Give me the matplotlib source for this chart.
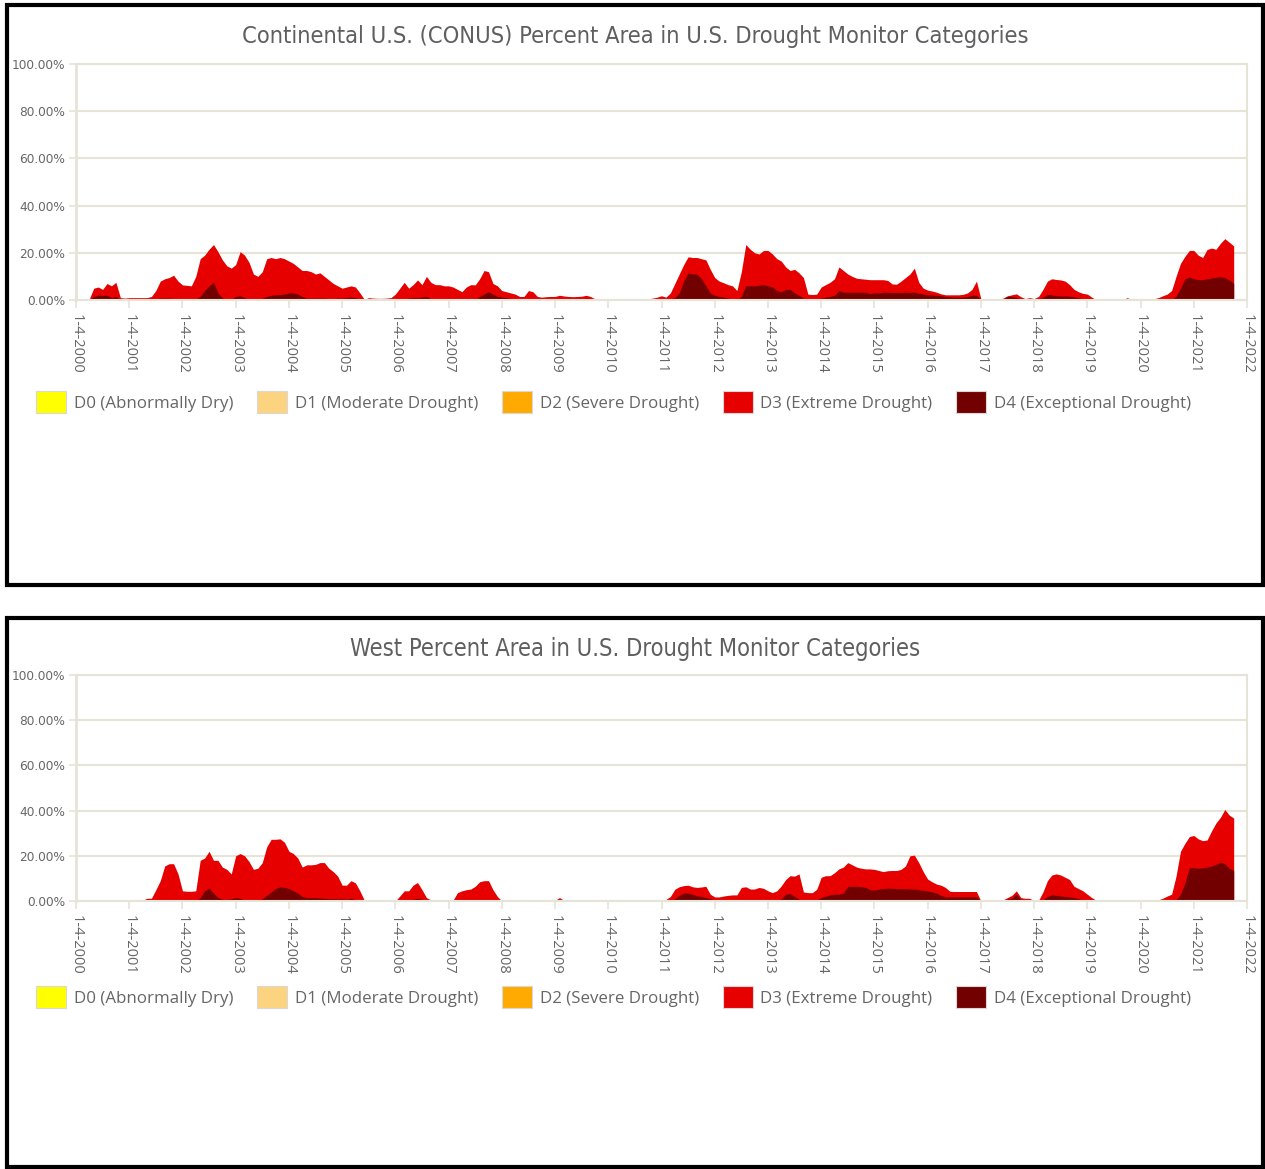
import matplotlib
matplotlib.use('Agg')
import matplotlib.pyplot as plt
from matplotlib import font_manager
from matplotlib.patches import Patch, Rectangle
from matplotlib.ticker import FuncFormatter
import numpy as np

# percent of area, monthly, Jan 2000 .. Oct 2021
conus_d3 = [
    0, 0, 0, 0.5, 5, 5.5, 4.5, 7, 6, 7.5, 1, 0.8,                    # 2000
    1, 1, 1, 1, 1, 1.5, 4, 8, 9, 9.5, 10.5, 8,                       # 2001
    6.4, 6.2, 6.0, 10, 17.5, 19, 21.5, 23.5, 20.5, 17, 14.5, 13.5,   # 2002
    15, 20.5, 19, 16, 11, 10, 12, 17.5, 18, 17.5, 18, 17.5,          # 2003
    16.5, 15.5, 14, 12.5, 12.5, 12, 11, 11.5, 10, 8.5, 7, 6,         # 2004
    5, 5.5, 6, 5.5, 3, 0.3, 1, 0.8, 0.7, 0.7, 0.8, 1,                # 2005
    2.5, 5, 7.5, 5, 6.5, 8.5, 6.5, 10, 7.5, 6.5, 6.5, 6,             # 2006
    6, 5.5, 4.5, 3.5, 5.5, 6.5, 6.4, 9, 12.5, 12, 7, 6,              # 2007
    4, 3.5, 3, 2.5, 1.5, 1.5, 4, 3.5, 1.5, 1.2, 1.4, 1.5,            # 2008
    1.5, 2, 1.7, 1.5, 1.4, 1.5, 1.6, 2, 1.5, 0.5, 0.3, 0.2,          # 2009
    0.1, 0.1, 0.1, 0.1, 0.1, 0.2, 0.2, 0.2, 0.3, 0.5, 0.8, 1.2,      # 2010
    1.8, 1.2, 3, 7, 11, 15, 18.3, 18, 18, 17.5, 17, 13,              # 2011
    9.5, 8, 7.3, 6.5, 6, 4, 12, 23.5, 21.5, 20, 19.5, 21,            # 2012
    21, 19.5, 17.5, 16.5, 14, 12.5, 13, 11.5, 9.5, 2.5, 2.3, 2.5,    # 2013
    5.5, 6.5, 7.5, 9, 14, 12.5, 11, 10, 9.2, 9, 8.8, 8.6,            # 2014
    8.6, 8.6, 8.6, 8.3, 6.8, 6.7, 8, 9.5, 11, 13.5, 7.5, 5,          # 2015
    4.2, 3.8, 3.3, 2.6, 2.2, 2.2, 2.2, 2.2, 2.4, 3, 4.5, 8,          # 2016
    0.5, 0, 0, 0, 0.3, 0.8, 1.8, 2.2, 2.6, 1.4, 0.6, 1.0,            # 2017
    0.6, 1.5, 4.5, 8, 9, 8.7, 8.5, 8, 6.5, 4.5, 3.5, 2.8,            # 2018
    2.5, 1.2, 0.1, 0, 0, 0, 0, 0.05, 0.1, 1.0, 0.1, 0.1,             # 2019
    0.1, 0.2, 0.3, 0.5, 1, 1.8, 2.5, 4, 10, 15.5, 18.5, 21,          # 2020
    21, 19, 18, 21.4, 22, 21.5, 24, 26, 24.5, 22.9,                  # 2021
]
conus_d4 = [
    0, 0, 0, 0, 1.5, 2, 2, 2, 1, 1.5, 0.2, 0.2,
    0.5, 0.5, 0.5, 0.5, 0.5, 0.5, 0.5, 0.8, 0.8, 0.8, 0.6, 0.4,
    0.3, 0.3, 0.2, 0.5, 1.5, 4, 6, 7.5, 3, 0.8, 0.4, 0.4,
    1.5, 1.8, 1.0, 0.3, 0.2, 0.3, 0.8, 1.5, 2, 2.2, 2.3, 2.5,
    3, 3, 2.5, 1.5, 0.8, 0.8, 0.8, 0.8, 0.8, 0.6, 0.6, 0.8,
    0.8, 1.0, 1.2, 1.0, 0.5, 0.1, 0.1, 0.1, 0.1, 0.1, 0.1, 0.1,
    0.2, 0.3, 0.5, 0.8, 1.0, 1.0, 1.2, 1.6, 0.5, 0.3, 0.3, 0.3,
    0.2, 0.2, 0.2, 0.2, 0.2, 0.2, 0.2, 1.5, 2.5, 3.5, 2.5, 1.5,
    1.2, 1.0, 0.6, 0.4, 0.3, 0.3, 0.3, 0.3, 0.2, 0.2, 0.2, 0.4,
    0.5, 0.6, 0.5, 0.4, 0.3, 0.4, 0.5, 0.8, 0.6, 0.2, 0.1, 0.05,
    0, 0, 0, 0, 0, 0, 0, 0, 0, 0, 0, 0,
    0.1, 0.2, 0.5, 1, 3, 8, 11.5, 11, 11, 9, 6, 3,
    2, 1.5, 1.2, 0.8, 0.5, 0.2, 1.5, 6, 6, 6, 6.3, 6.5,
    6, 5.5, 4, 3.5, 4.5, 4.5, 3, 2, 0.8, 0.3, 0.3, 0.5,
    0.8, 1.2, 1.5, 2, 4, 3.3, 3.3, 3.3, 3.3, 3.3, 3.3, 2.7,
    3, 3, 3.3, 3.3, 3.2, 3.2, 3.2, 3.3, 3.2, 3.3, 2.8, 2.5,
    2.3, 2.1, 2, 1.8, 1.5, 1.3, 1.2, 1.2, 1.2, 1.5, 2, 2,
    0.2, 0, 0, 0, 0, 0.5, 1.5, 1.5, 1, 0.5, 0.2, 0.3,
    0.3, 0.5, 1, 2.3, 2.2, 1.8, 1.7, 1.7, 1.6, 1.3, 0.9, 0.6,
    0.4, 0.2, 0, 0, 0, 0, 0, 0, 0, 0, 0, 0,
    0, 0, 0, 0, 0, 0, 0.1, 0.3, 1.5, 5, 9, 9.7,
    9, 8.6, 8.6, 9, 9.3, 9.7, 9.8, 9.5, 8.5, 7.1,
]
west_d3 = [
    0, 0, 0, 0.1, 0.2, 0.6, 0.2, 0.2, 0.5, 0.5, 0.1, 0.1,
    0, 0, 0.1, 0.3, 1.2, 1.2, 5, 9, 15.5, 16.5, 16.5, 12,
    4.5, 4.3, 4.3, 4.5, 18, 19, 22, 18, 18, 15, 14, 12,
    20, 21, 20, 17.5, 14, 14.5, 17, 24, 27.3, 27.3, 27.5, 26,
    22, 21, 19, 15, 16, 16, 16.2, 17, 17, 14.5, 13, 11,
    7, 7, 9, 8, 4.5, 0.3, 0, 0, 0.3, 0.2, 0, 0,
    0, 2.2, 4.5, 4.5, 7, 8.2, 5, 1.5, 0.5, 0.3, 0.3, 0.3,
    0.3, 0.3, 3.7, 4.5, 5, 5.3, 6.5, 8.5, 9, 9, 5, 2,
    0, 0, 0, 0.1, 0.2, 0.7, 0.1, 0.1, 0.1, 0.1, 0.1, 0.1,
    0.3, 1.5, 0.3, 0.1, 0.1, 0.1, 0.1, 0.1, 0.1, 0.1, 0.1, 0.2,
    0.3, 0.15, 0.15, 0.15, 0.15, 0.15, 0.15, 0.15, 0.15, 0.15, 0.15, 0.15,
    0.2, 0.7, 2, 5.2, 6.3, 6.8, 7, 6.3, 6, 6.2, 6.5, 3,
    1.8, 1.8, 2.2, 2.5, 2.7, 2.7, 6, 6.3, 5.3, 5.3, 6, 5.6,
    4.5, 3.7, 4.5, 6.7, 9.5, 11.2, 11, 12, 4, 3.7, 3.7, 5.2,
    10.5, 11.2, 11.2, 12.5, 14.2, 15, 17, 16, 15, 14.5, 14.2, 14.2,
    14, 13.5, 13, 13.4, 13.5, 13.5, 14, 15.5, 20, 20.3, 17, 13,
    9.7, 8.5, 7.5, 7, 6, 4.3, 4.2, 4.2, 4.2, 4.2, 4.2, 4.2,
    0, 0, 0, 0, 0, 0.5, 1.5, 2.5, 4.5, 1.5, 1.2, 1.2,
    0, 0.3, 4, 9, 11.5, 12, 11.5, 10.5, 9.5, 6.5, 5.5, 4.5,
    3, 1.5, 0.3, 0.3, 0.3, 0.3, 0.3, 0.3, 0.3, 0.2, 0, 0,
    0, 0, 0, 0.1, 0.5, 1.2, 2.2, 3, 11, 22, 25.5, 28.5,
    29, 27.5, 26.7, 27, 31, 34.5, 37, 40.5, 38, 36.7,
]
west_d4 = [
    0, 0, 0, 0, 0, 0, 0, 0, 0, 0, 0, 0,
    0, 0, 0, 0, 0, 0, 0, 0, 0, 0, 0, 0,
    0, 0, 0, 0, 1.5, 4.5, 5.7, 3.5, 1.5, 0.8, 0.7, 1.0,
    1.5, 1.2, 0.3, 0, 0, 0.3, 1, 2.5, 4, 5.5, 6.3, 6,
    5.5, 4.5, 3.5, 2, 1.5, 1.5, 1.5, 1.3, 1.2, 1, 1, 1,
    1, 0.8, 1.2, 0.5, 0.2, 0, 0, 0, 0, 0, 0, 0,
    0, 0, 0, 0.3, 0.8, 1.2, 0.8, 0.2, 0, 0, 0, 0,
    0, 0, 0, 0, 0, 0, 0, 0, 0, 0, 0, 0,
    0, 0, 0, 0, 0, 0, 0, 0, 0, 0, 0, 0,
    0, 0, 0, 0, 0, 0, 0, 0, 0, 0, 0, 0,
    0, 0, 0, 0, 0, 0, 0, 0, 0, 0, 0, 0,
    0, 0, 0.2, 1, 2.5, 3.5, 3.5, 3, 2.3, 2, 1.5, 1,
    0.5, 0.4, 0.3, 0.2, 0.1, 0.1, 0, 0, 0, 0, 0, 0.1,
    0.1, 0.1, 0.1, 1, 3, 3.3, 2, 0.8, 0.3, 0.3, 0.3, 0.5,
    1.5, 2.2, 2.7, 3, 3, 3.5, 6.5, 6.5, 6.5, 6.3, 6, 5,
    4.8, 5.2, 5.5, 5.7, 5.6, 5.5, 5.5, 5.4, 5.3, 5.3, 5, 4.7,
    4.5, 4, 3.5, 2.5, 1.8, 1.8, 1.8, 1.8, 1.8, 1.8, 1.8, 1.8,
    0, 0, 0, 0, 0, 0.2, 0.8, 1.2, 3, 0.5, 0.3, 0.3,
    0, 0, 0.5, 2, 2.7, 2.5, 2.2, 2, 1.8, 1.5, 1, 0.5,
    0.3, 0.1, 0, 0, 0, 0, 0, 0, 0, 0, 0, 0,
    0, 0, 0, 0, 0, 0, 0, 0, 0.5, 3, 8, 14.7,
    14.7, 14.5, 14.7, 15, 15.5, 16.2, 17.2, 16.5, 14.5, 13.5,
]
years = list(range(2000, 2023))
tick_labels = ['1-4-%d' % y for y in years]
legend_labels = ['D0 (Abnormally Dry)', 'D1 (Moderate Drought)', 'D2 (Severe Drought)',
                 'D3 (Extreme Drought)', 'D4 (Exceptional Drought)']
legend_colors = ['#ffff00', '#fcd37f', '#ffaa00', '#e60000', '#730000']
titles = ['Continental U.S. (CONUS) Percent Area in U.S. Drought Monitor Categories',
          'West Percent Area in U.S. Drought Monitor Categories']

W, H = 1265, 1169
fig = plt.figure(figsize=(W / 100, H / 100), dpi=100)
fig.patch.set_facecolor('white')

names = {f.name for f in font_manager.fontManager.ttflist}
title_font = 'Liberation Sans Narrow' if 'Liberation Sans Narrow' in names else 'DejaVu Sans'
text_font = ['Open Sans', 'DejaVu Sans']
grid_col = '#e6e4d6'
gray = '#666666'


def px(x0, y0, x1, y1):
    # pixel box -> figure fraction rect
    return [x0 / W, 1 - y1 / H, (x1 - x0) / W, (y1 - y0) / H]


def panel(d3, d4, title, ax_box, frame_box, title_y, title_w, legend_y):
    ax = fig.add_axes(px(*ax_box))
    x = 2000 + np.arange(len(d3)) / 12
    ax.fill_between(x, 0, d3, color='#e60000', lw=0)
    ax.fill_between(x, 0, d4, color='#730000', lw=0)
    ax.set_xlim(2000, 2022)
    ax.set_ylim(0, 100)
    ax.set_axisbelow(True)
    ax.set_yticks(range(0, 101, 20))
    ax.yaxis.set_major_formatter(FuncFormatter(lambda v, p: '%.2f%%' % v))
    ax.set_xticks(years)
    ax.set_xticklabels(tick_labels, rotation=270, ha='center', va='top', family=text_font)
    ax.grid(axis='y', color=grid_col, lw=1.5)
    for s in ax.spines.values():
        s.set_color(grid_col)
        s.set_linewidth(1.5)
    ax.spines['left'].set_linewidth(2)
    ax.tick_params(axis='x', length=6, width=1.2, color=grid_col, pad=4, labelsize=10.5, labelcolor=gray)
    ax.tick_params(axis='y', length=5, width=1.2, color=grid_col, pad=3, labelsize=8.7, labelcolor=gray)

    fig.add_artist(Rectangle((frame_box[0] / W, 1 - frame_box[3] / H),
                             (frame_box[2] - frame_box[0]) / W, (frame_box[3] - frame_box[1]) / H,
                             transform=fig.transFigure, fill=False, ec='black', lw=3))

    t = fig.text(635 / W, 1 - title_y / H, title, ha='center', va='center', fontsize=20,
                 color='#5f5f5f', family=title_font, fontstretch='condensed')
    w = t.get_window_extent(fig.canvas.get_renderer()).width
    t.set_fontsize(20 * title_w / w)

    handles = [Patch(facecolor=c, edgecolor='#d8d8d8', lw=0.8) for c in legend_colors]
    leg = fig.legend(handles, legend_labels, loc='center left', bbox_to_anchor=(36 / W, 1 - legend_y / H),
                     ncol=5, frameon=False, prop={'family': text_font, 'size': 12.2},
                     handlelength=1.78, handleheight=1.7, handletextpad=0.45, columnspacing=1.4,
                     borderpad=0, borderaxespad=0)
    for txt in leg.get_texts():
        txt.set_color(gray)
    return ax


panel(conus_d3, conus_d4, titles[0], (76, 64, 1247, 300), (7, 5, 1263, 585), 37, 785, 402)
panel(west_d3, west_d4, titles[1], (76, 675, 1247, 901), (7, 618, 1263, 1167), 649, 571, 997)

fig.savefig('out.png', dpi=100)
